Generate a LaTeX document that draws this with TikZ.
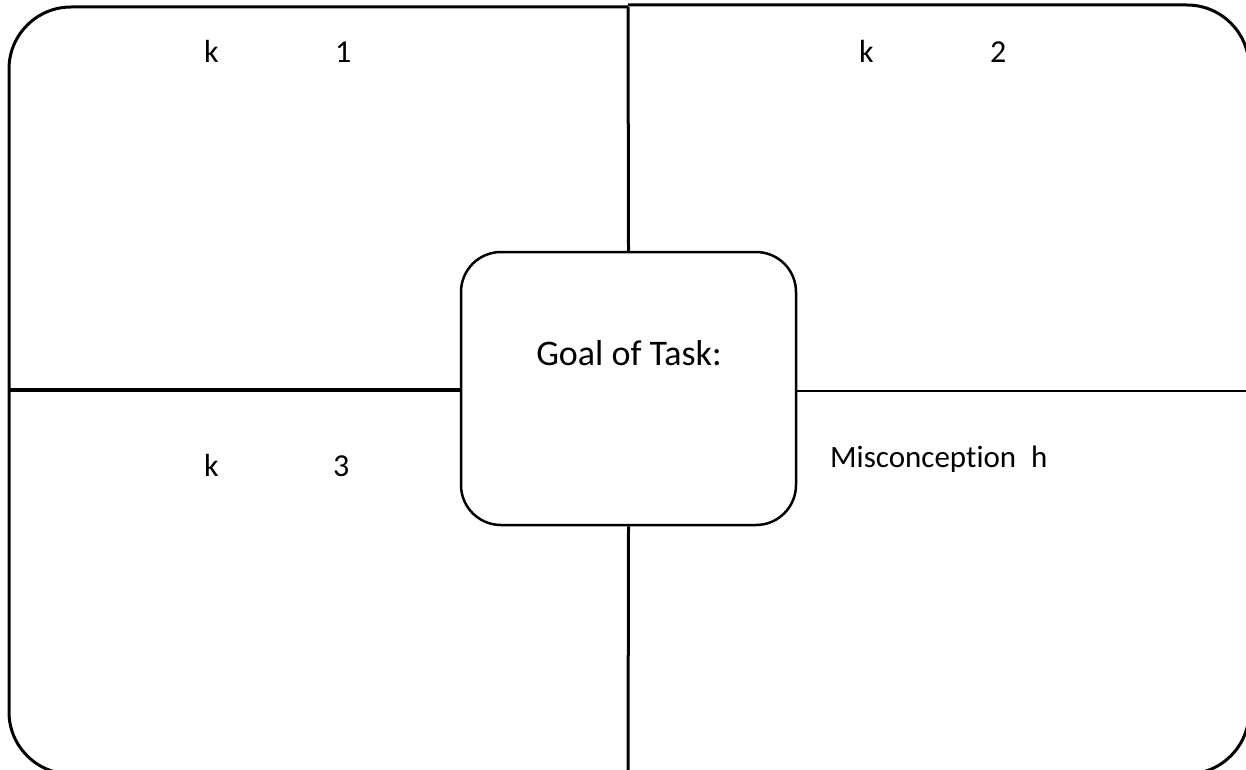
\documentclass[tikz,border=0pt]{standalone}
\usepackage{fontspec}
\setmainfont{Carlito}[Ligatures=NoCommon]
\begin{document}
\begin{tikzpicture}[x=1pt,y=-1pt,
  frame/.style={draw=black,line width=3pt},
  divider/.style={draw=black,line width=3pt},
  lbl/.style={anchor=base west,inner sep=0pt,font=\fontsize{32}{34}\selectfont},
  miscl/.style={anchor=base west,inner sep=0pt,font=\fontsize{31}{34}\selectfont},
  goalbox/.style={draw=black,line width=2.5pt,rounded corners=40pt,minimum width=335pt,minimum height=273pt,inner sep=0pt}]
\useasboundingbox (0,0) rectangle (1246,770);
\clip (0,0) rectangle (1246,770);
\fill[white] (0,0) rectangle (1246,770);
% left half frame
\draw[frame,rounded corners=62pt] (628,7) -- (9,7) -- (9,774) -- (628,774);
% right half frame
\draw[frame,rounded corners=62pt] (628,5) -- (1249,5) -- (1249,774) -- (628,774);
% centre box
\node[goalbox] (goal) at (628.5,388.5) {};
\node[anchor=base,inner sep=0pt,font=\fontsize{36}{40}\selectfont] (goaltxt) at (629,365) {Goal of Task:};
% dividers
\coordinate (ltop) at (628,7);
\coordinate (lbot) at (628,774);
\coordinate (lleft) at (9,390);
\coordinate (rright) at (1249,391);
\draw[divider] (ltop) -- (goal.north);
\draw[divider] (goal.south) -- (lbot);
\draw[draw=black,line width=4pt] (lleft) -- (goal.west |- lleft);
\draw[draw=black,line width=2pt] (goal.east |- rright) -- (rright);
% labels
\node[lbl] (k1) at (204,63) {k};
\node[lbl] (n1) at (335,63) {1};
\node[lbl] (k2) at (859,63) {k};
\node[lbl] (n2) at (990,63) {2};
\node[lbl] (k3) at (204,476) {k};
\node[lbl] (n3) at (333,476) {3};
\node[miscl] (mis) at (830,467) {Misconception};
\node[miscl] (h) at (1031,467) {h};
\end{tikzpicture}
\end{document}
